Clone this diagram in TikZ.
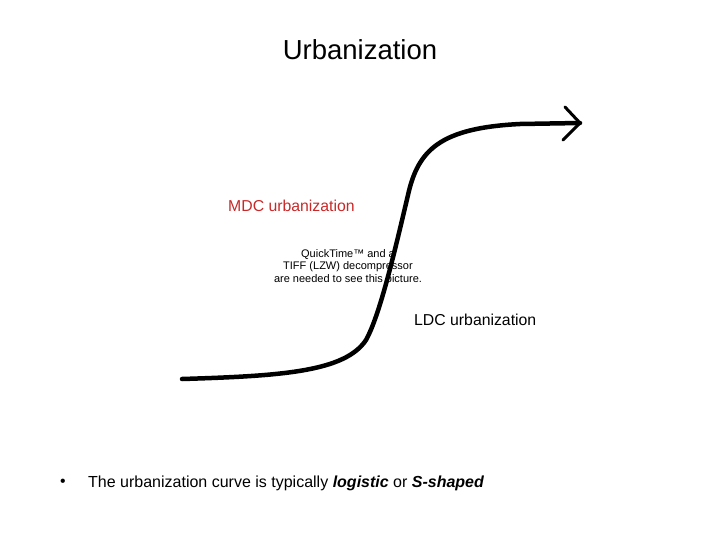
\documentclass[tikz,border=0pt]{standalone}
\usepackage{fontspec}
\setmainfont{Liberation Sans}
\usetikzlibrary{arrows.meta}
\begin{document}
\begin{tikzpicture}[x=1pt,y=-1pt,
  lbl/.style={inner sep=0pt,anchor=west,font=\fontsize{15.8}{18}\selectfont},
  curve/.style={line width=4.5pt,line cap=round}]
\useasboundingbox (0,0) rectangle (720,540);
\node[inner sep=0pt,font=\fontsize{27.5}{30}\selectfont] (title) at (360,50) {Urbanization};
\node[lbl,text={rgb,255:red,200;green,40;blue,40}] (mdc) at (228,206) {MDC urbanization};
\node[lbl] (ldc) at (414,320) {LDC urbanization};
\node[inner sep=0pt,align=center,font=\fontsize{11}{12.5}\selectfont] (qt) at (348,267) {QuickTime™ and a\\TIFF (LZW) decompressor\\are needed to see this picture.};
\coordinate (s) at (182,379);
\coordinate (e) at (580,123);
\draw[curve] (s) .. controls (280,376) and (345,372) .. (366,340)
  .. controls (380,315) and (395,250) .. (408,195)
  .. controls (418,150) and (440,128) .. (520,124) -- (e);
\draw[line width=3pt,line cap=round,line join=miter] (565,107) -- (e) -- (563,140);
\node[lbl] (bul) at (60,483) {•};
\node[lbl,font=\fontsize{16}{18}\selectfont] (txt) at (88,483) {The urbanization curve is typically \textbf{\textit{logistic}} or \textbf{\textit{S-shaped}}};
\end{tikzpicture}
\end{document}
